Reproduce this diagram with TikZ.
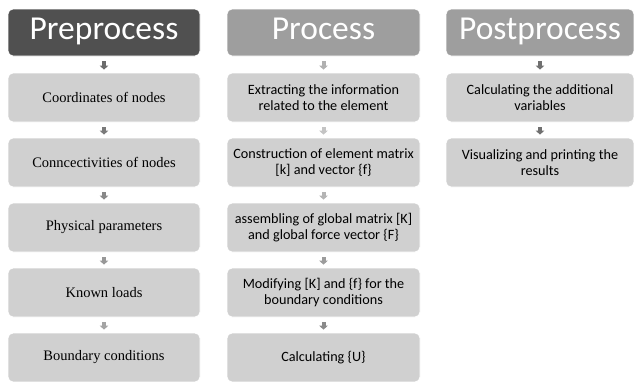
\documentclass[tikz,border=0pt]{standalone}
\usepackage{fontspec}
\setmainfont{Liberation Serif}
\newfontfamily\calib{Carlito}
\usetikzlibrary{arrows.meta}

\definecolor{hdrdark}{HTML}{505050}
\definecolor{hdrlight}{HTML}{9E9E9E}
\definecolor{boxgray}{HTML}{D0D0D0}

\begin{document}
\begin{tikzpicture}[x=1pt, y=-1pt,
every node/.style = {shape=rectangle, rounded corners=5pt,
	draw=white, line width=0.8pt, align=center, inner sep=2pt},
hdr/.style = {minimum height=47pt, font=\calib\fontsize{33.5}{36}\selectfont,
	text=white, text height=23pt, text depth=10pt},
stage/.style = {fill=boxgray, minimum height=49pt,
	font=\fontsize{14.5}{16}\selectfont},
sstage/.style = {stage, font=\calib\fontsize{14.2}{15.8}\selectfont},
flow/.style = {line width=4pt, shorten <=5pt, shorten >=3pt,
	-{Triangle[width=8.5pt,length=4pt]}}]
	\useasboundingbox (0,0) rectangle (634,381);
	% headers
	\node[hdr, fill=hdrdark, minimum width=192pt] (pre) at (104,32.5) {Preprocess};
	\node[hdr, fill=hdrlight, minimum width=193pt] (pro) at (323.5,32.5) {Process};
	\node[hdr, fill=hdrlight, minimum width=188pt] (post) at (540,32.5) {Postprocess};
	% preprocess
	\node[stage, minimum width=192pt] (pre1) at (104,97.5) {Coordinates of nodes};
	\node[stage, minimum width=192pt] (pre2) at (104,162.5) {Conncectivities of nodes};
	\node[stage, minimum width=192pt] (pre3) at (104,227.5) {Physical parameters};
	\node[stage, minimum width=192pt] (pre4) at (104,292.5) {Known loads};
	\node[stage, minimum width=192pt] (pre5) at (104,357.5) {Boundary conditions};
	% process
	\node[sstage, minimum width=193pt] (pro1) at (323.5,97.5) {Extracting the information\\related to the element};
	\node[sstage, minimum width=193pt] (pro2) at (323.5,162.5) {Construction of element matrix\\{}[k] and vector \{f\}};
	\node[sstage, minimum width=193pt] (pro3) at (323.5,227.5) {assembling of global matrix [K]\\and global force vector \{F\}};
	\node[sstage, minimum width=193pt] (pro4) at (323.5,292.5) {Modifying [K] and \{f\} for the\\boundary conditions};
	\node[sstage, minimum width=193pt] (pro5) at (323.5,357.5) {Calculating \{U\}};
	% postprocess
	\node[sstage, minimum width=188pt] (post1) at (540,97.5) {Calculating the additional\\variables};
	\node[sstage, minimum width=188pt] (post2) at (540,162.5) {Visualizing and printing the\\results};
	% arrows
	\foreach \a/\b/\c in {pre/pre1/6B6B6B, pre1/pre2/7A7A7A, pre2/pre3/888888,
		pre3/pre4/989898, pre4/pre5/A4A4A4,
		pro/pro1/B0B0B0, pro1/pro2/C4C4C4, pro2/pro3/B4B4B4,
		pro3/pro4/9C9C9C, pro4/pro5/8A8A8A,
		post/post1/707070, post1/post2/707070}{
		\definecolor{arrgray}{HTML}{\c}
		\draw[flow, arrgray] (\a.south) -- (\b.north);
	}
\end{tikzpicture}
\end{document}
